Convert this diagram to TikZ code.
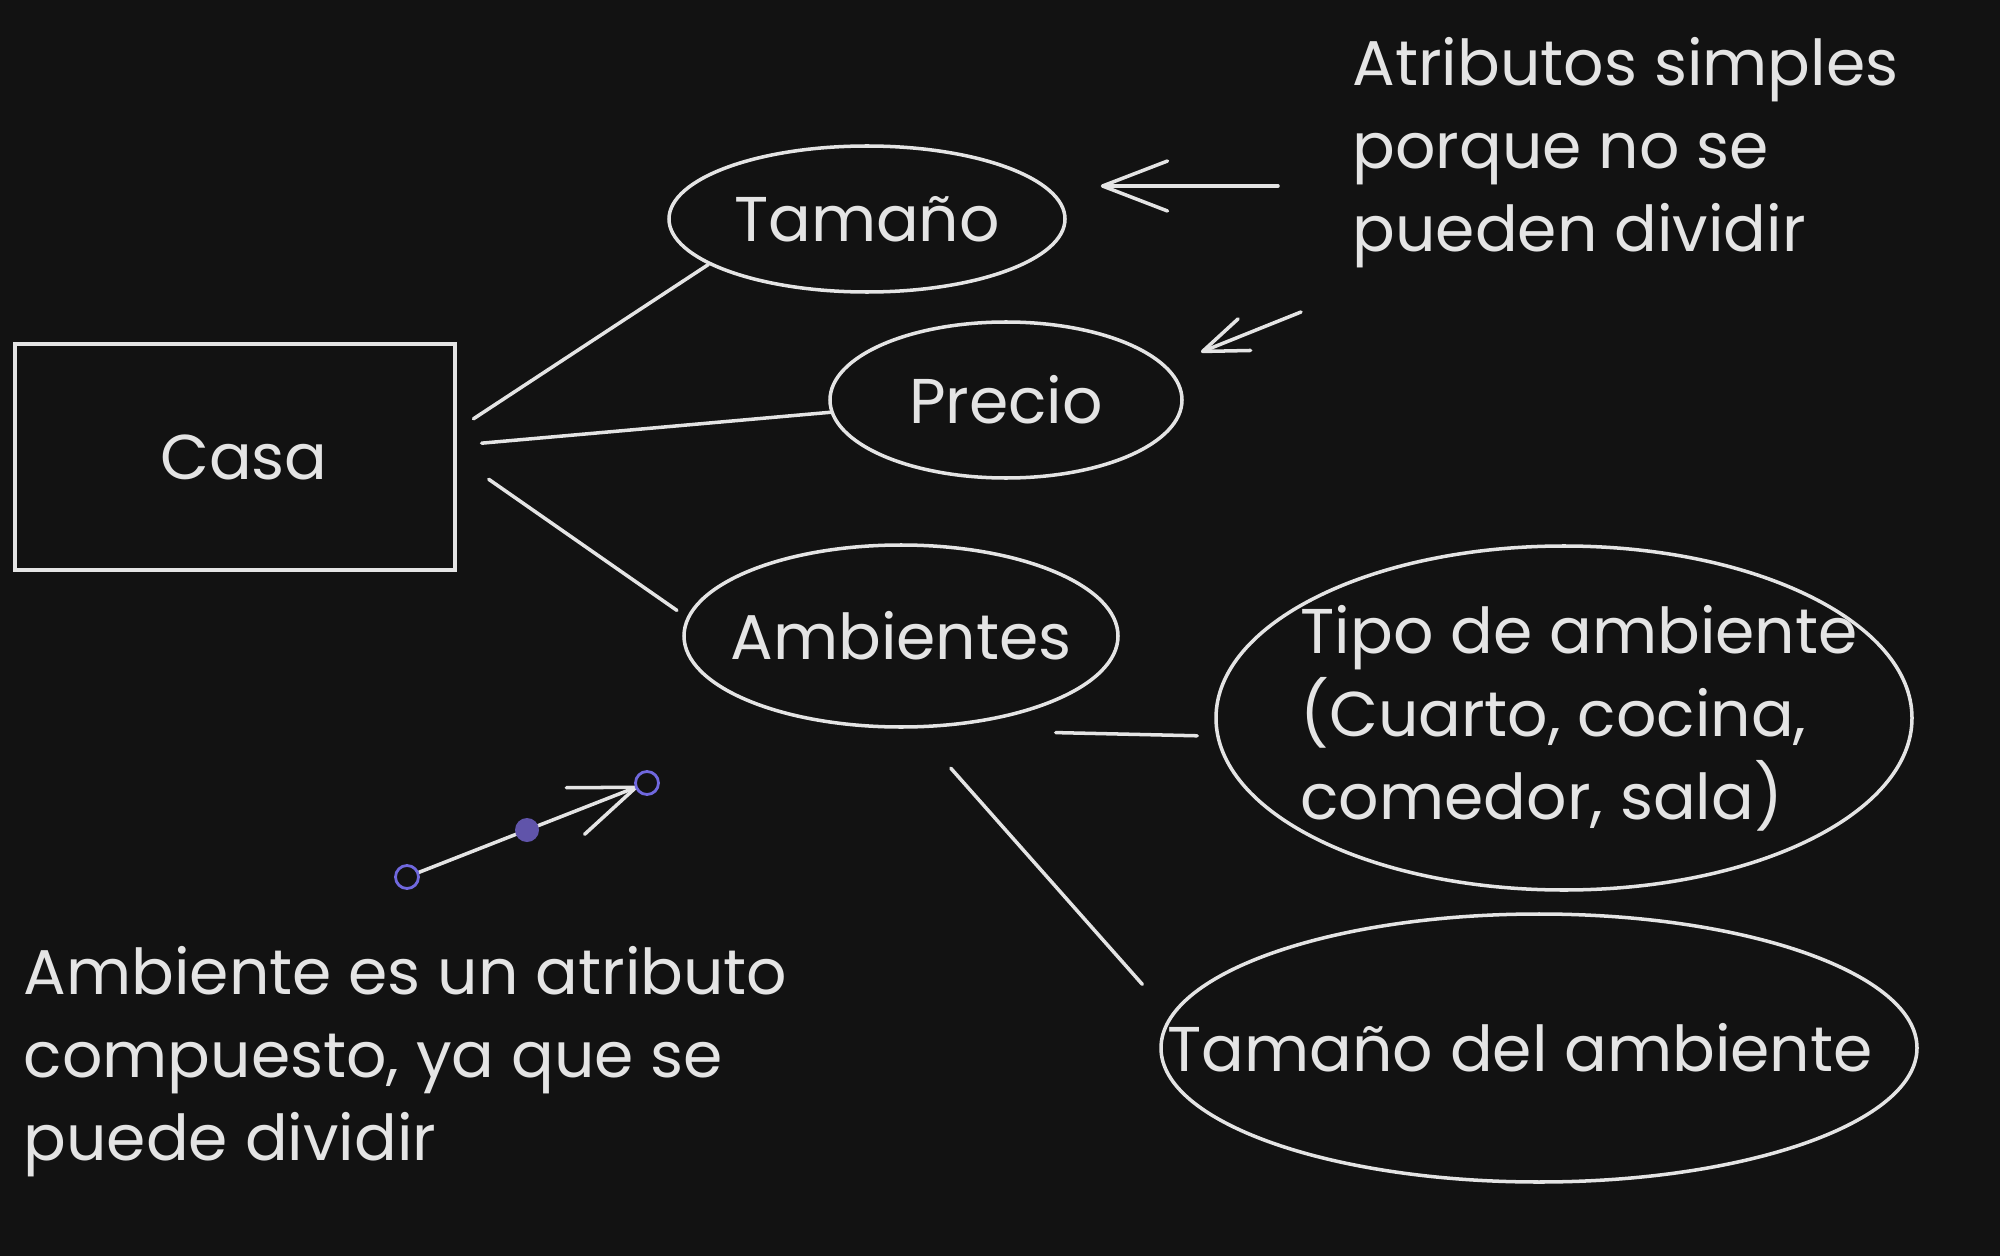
\documentclass[tikz,border=0pt]{standalone}
\usepackage{fontspec}
\setmainfont{Poppins}
\usetikzlibrary{shapes.geometric, arrows.meta, calc}
\definecolor{bgdark}{RGB}{18,18,18}
\definecolor{inkwhite}{RGB}{228,228,228}
\definecolor{handlepurple}{RGB}{112,104,222}
\definecolor{dotpurple}{RGB}{96,84,170}

\begin{document}
\begin{tikzpicture}[
  ink/.style={draw=inkwhite, line width=1pt},
  attr/.style={ink, ellipse, inner sep=0pt},
  lbl/.style={text=inkwhite, font=\fontsize{18}{23.6}\selectfont},
  link/.style={ink, line cap=round},
  arr/.style={ink, line cap=round, -{Straight Barb[length=6.5mm, width=5mm, round]}},
  arrsmall/.style={ink, line cap=round, -{Straight Barb[length=4.5mm, width=3.4mm, round]}},
  handle/.style={draw=handlepurple, fill=bgdark, line width=0.8pt, circle, minimum size=0.23cm, inner sep=0pt},
  handledot/.style={fill=dotpurple, circle, minimum size=0.24cm, inner sep=0pt}
]
  \fill[bgdark] (0,0) rectangle (20,-12.56);

  % entidad y atributos
  \node[ink, lbl, minimum width=4.40cm, minimum height=2.26cm] (casa) at (2.35,-4.57) {\hspace{0.18cm}Casa};
  \node[attr, minimum width=3.96cm, minimum height=1.46cm, label={[lbl]center:{Tamaño}}] (tam) at (8.67,-2.19) {};
  \node[attr, minimum width=3.52cm, minimum height=1.56cm, label={[lbl]center:{Precio}}] (pre) at (10.06,-4.00) {};
  \node[attr, minimum width=4.34cm, minimum height=1.82cm, label={[lbl]center:{Ambientes}}] (amb) at (9.01,-6.36) {};
  \node[attr, minimum width=6.96cm, minimum height=3.44cm, label={[lbl, align=left, xshift=0.15cm]center:{Tipo de ambiente\\(Cuarto, cocina,\\comedor, sala)}}] (tipo) at (15.64,-7.18) {};
  \node[attr, minimum width=7.56cm, minimum height=2.68cm, label={[lbl, xshift=-0.19cm]center:{Tamaño del ambiente}}] (tad) at (15.39,-10.48) {};

  % notas
  \node[lbl, align=left, anchor=west, inner sep=0pt] (simples) at (13.52,-1.53) {Atributos simples\\porque no se\\pueden dividir};
  \node[lbl, align=left, anchor=west, inner sep=0pt] (compuesto) at (0.23,-10.62) {Ambiente es un atributo\\compuesto, ya que se\\puede dividir};

  % lineas
  \draw[link, shorten <=0.2cm] (casa.7.5) -- (tam.196);
  \draw[link, shorten <=0.25cm] (casa.3.9) -- (pre.184);
  \draw[link, shorten <=0.39cm, shorten >=0.12cm] (casa.east) -- (amb.175);
  \draw[link, shorten >=0.19cm] ([yshift=-0.31cm]amb.south east) -- (tipo.183);
  \draw[link, shorten <=0.53cm, shorten >=0.42cm] (amb.279) -- (tad.175);

  % flechas
  \coordinate (simTail) at (12.78,-1.86);
  \draw[arr, shorten >=0.34cm] (simTail) -- (tam.east |- simTail);
  \coordinate (preTail) at (13.01,-3.12);
  \draw[arrsmall, shorten >=0.37cm] (preTail) -- (pre.12);

  \coordinate (hTail) at (4.07,-8.77);
  \coordinate (hHead) at (6.47,-7.83);
  \draw[arr, shorten >=0.1cm] (hTail) -- (hHead);
  \node[handle] (hA) at (hTail) {};
  \node[handle] (hB) at (hHead) {};
  \node[handledot] (hM) at ($(hTail)!0.5!(hHead)$) {};
\end{tikzpicture}
\end{document}
